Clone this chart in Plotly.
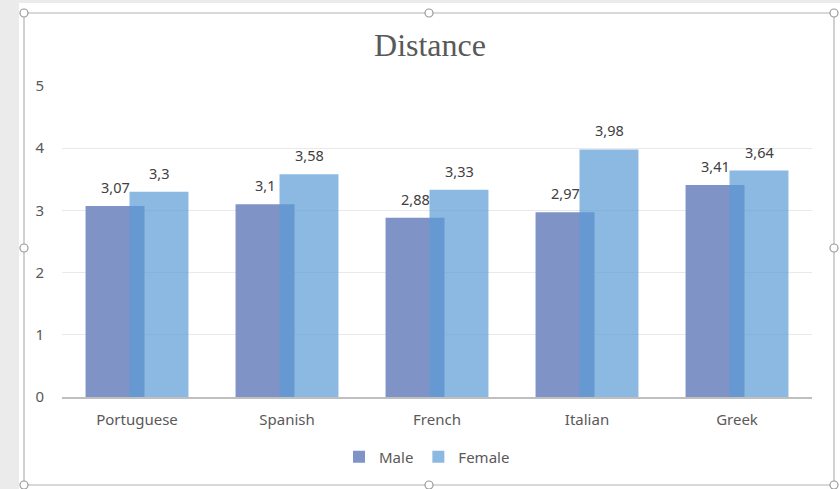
import plotly.graph_objects as go

categories = ["Portuguese", "Spanish", "French", "Italian", "Greek"]
male = [3.07, 3.10, 2.88, 2.97, 3.41]
female = [3.30, 3.58, 3.33, 3.98, 3.64]
y_ticks = [0, 1, 2, 3, 4, 5]

W, H = 840, 489
L, R, T, B = 62, 812, 86, 397


def px(x):
    return (x - L) / (R - L)


def py(y):
    return (B - y) / (B - T)


def fmt(v):
    return ("%g" % v).replace(".", ",")


MALE_C = "rgb(128,147,198)"
FEMALE_C = "rgba(91,155,213,0.7)"
BW = 0.393

fig = go.Figure()
fig.add_trace(go.Bar(x=categories, y=male, name="Male", marker_color=MALE_C,
                     width=BW, offset=-0.343, marker_line_width=0))
fig.add_trace(go.Bar(x=categories, y=female, name="Female", marker_color=FEMALE_C,
                     width=BW, offset=-0.05, marker_line_width=0))

lab_font = dict(family="Noto Sans", size=14.5, color="#404040")
annotations = []
for c, m, f in zip(categories, male, female):
    annotations.append(dict(x=c, y=m, xref="x", yref="y", text=fmt(m), showarrow=False,
                            xshift=-22, yshift=19, font=lab_font))
    annotations.append(dict(x=c, y=f, xref="x", yref="y", text=fmt(f), showarrow=False,
                            xshift=22, yshift=19, font=lab_font))

shapes = []
# grey strips outside the chart area
shapes.append(dict(type="rect", xref="paper", yref="paper", x0=px(0), x1=px(19), y0=py(0), y1=py(H),
                   fillcolor="#ebebeb", line_width=0, layer="below"))
shapes.append(dict(type="rect", xref="paper", yref="paper", x0=px(0), x1=px(W), y0=py(0), y1=py(3),
                   fillcolor="#ebebeb", line_width=0, layer="below"))
# chart frame
shapes.append(dict(type="rect", xref="paper", yref="paper", x0=px(24), x1=px(834), y0=py(13), y1=py(485),
                   fillcolor="rgba(0,0,0,0)", line=dict(color="#b4b4b4", width=1.2), layer="above"))
handles = [(24, 13), (429, 13), (834, 13), (24, 248), (834, 248), (24, 485), (429, 485), (834, 485)]
for hx, hy in handles:
    shapes.append(dict(type="circle", xref="paper", yref="paper", xsizemode="pixel", ysizemode="pixel",
                       xanchor=px(hx), yanchor=py(hy), x0=-4, x1=4, y0=-4, y1=4,
                       fillcolor="white", line=dict(color="#9a9a9a", width=1.2), layer="above"))

fig.update_layout(
    width=W, height=H,
    margin=dict(l=L, r=W - R, t=T, b=H - B),
    paper_bgcolor="white", plot_bgcolor="white",
    barmode="overlay",
    title=dict(text="Distance", x=430 / W, xanchor="center", y=1 - 45 / H, yanchor="middle",
               font=dict(family="Liberation Serif", size=32, color="#595959")),
    font=dict(family="Noto Sans", size=15, color="#595959"),
    xaxis=dict(showgrid=False, showline=True, linecolor="#bfbfbf", linewidth=1.5,
               tickfont=dict(size=15, color="#595959"), ticks="outside", ticklen=8,
               tickcolor="rgba(0,0,0,0)", range=[-0.5, 4.5]),
    yaxis=dict(range=[0, 5], tickvals=y_ticks, showgrid=True, gridcolor="#e9e9e9", gridwidth=1,
               zeroline=False, showline=False, ticks="outside", ticklen=14,
               tickcolor="rgba(0,0,0,0)", tickfont=dict(size=15, color="#595959")),
    legend=dict(orientation="h", x=px(427), xanchor="center", y=py(457), yanchor="middle",
                font=dict(size=15, color="#595959"), itemwidth=30, traceorder="normal",
                bgcolor="rgba(0,0,0,0)", tracegroupgap=0),
    annotations=annotations,
    shapes=shapes,
)

fig.write_html("out.html", config={"displayModeBar": False},
               post_script="document.body.style.margin='0';document.body.style.padding='0';")
